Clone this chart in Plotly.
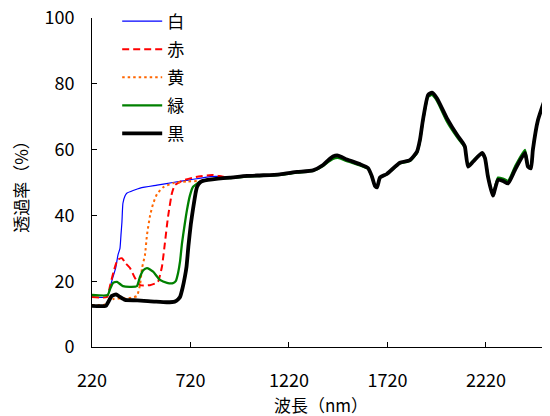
import plotly.graph_objects as go

# ---- data (wavelength nm, transmittance %) ----
common_wl = [920, 1007, 1090, 1174, 1261, 1342, 1393, 1420, 1443, 1469, 1514, 1580, 1621, 1640,
             1656, 1667, 1682, 1717, 1783, 1834, 1870, 1885, 1900, 1926, 1946, 1971, 2022, 2073,
             2103, 2113, 2129, 2154, 2200, 2215, 2230, 2255, 2281, 2306, 2332, 2367, 2418, 2433,
             2448, 2458, 2484, 2530, 2560]
common_t = [51.5, 52.0, 52.2, 52.5, 53.2, 53.7, 55.3, 56.8, 57.9, 58.2, 57.0, 55.6, 54.4, 52.0,
            49.0, 48.5, 51.5, 52.6, 56.0, 56.8, 59.4, 63.0, 69.0, 76.6, 77.3, 75.6, 69.5, 64.5,
            62.0, 60.9, 54.8, 56.3, 59.0, 57.4, 51.8, 46.0, 50.8, 50.5, 49.7, 53.8, 59.0, 54.8,
            54.3, 59.9, 69.0, 77.2, 82.0]
green_tail_t = [51.3, 51.8, 52.0, 52.3, 53.0, 53.5, 55.0, 56.3, 57.2, 57.5, 56.5, 55.2, 54.2, 51.8,
                49.0, 48.8, 51.5, 52.5, 55.8, 56.5, 59.0, 62.5, 68.5, 76.0, 76.6, 74.8, 68.5, 63.8,
                61.5, 60.5, 55.2, 56.6, 59.0, 57.6, 52.2, 46.5, 51.5, 51.2, 50.5, 54.8, 59.9, 55.2,
                54.5, 60.2, 69.0, 77.0, 82.0]

white_wl = [220, 296, 311, 327, 340, 352, 362, 367, 372, 377, 388, 398, 464, 550, 630, 717, 819, 880]
white_t = [15.2, 15.2, 18.0, 21.4, 24.0, 28.0, 30.0, 34.0, 38.0, 43.7, 46.0, 46.8, 48.3, 49.2, 50.0,
           50.8, 51.8, 51.8]

red_wl = [220, 296, 311, 330, 350, 372, 390, 413, 438, 464, 514, 540, 555, 575, 590, 606, 626, 641,
          677, 748, 830, 880]
red_t = [15.2, 15.2, 18.5, 23.0, 26.5, 27.0, 25.5, 24.0, 21.0, 18.8, 18.8, 19.3, 19.8, 24.4, 31.6,
         39.6, 46.8, 49.2, 50.5, 51.7, 52.3, 51.8]

yellow_wl = [220, 280, 300, 330, 388, 420, 448, 464, 474, 489, 499, 515, 530, 550, 580, 631, 702,
             768, 830, 880]
yellow_t = [12.8, 12.8, 13.8, 14.6, 14.8, 15.0, 15.5, 19.0, 24.0, 28.0, 34.0, 40.0, 43.5, 46.5,
            48.5, 49.8, 50.3, 50.5, 51.0, 51.3]

green_wl = [220, 300, 311, 327, 347, 377, 420, 448, 464, 480, 499, 530, 565, 601, 631, 645, 657,
            667, 677, 690, 702, 717, 733, 768, 800, 860]
green_t = [15.8, 15.8, 17.5, 19.5, 19.8, 18.5, 18.3, 18.5, 21.4, 23.3, 24.0, 22.9, 20.4, 19.5,
           19.4, 20.0, 22.5, 26.0, 31.6, 37.0, 41.6, 46.0, 48.7, 50.2, 50.8, 51.2]

black_wl = [220, 290, 301, 320, 342, 360, 388, 450, 540, 600, 640, 657, 667, 680, 692, 700, 710,
            722, 733, 745, 753, 768, 783, 860]
black_t = [12.5, 12.5, 13.5, 15.5, 16.0, 15.3, 14.3, 14.2, 13.8, 13.6, 13.8, 14.5, 15.2, 18.0, 21.5,
           24.5, 31.0, 37.5, 42.0, 46.5, 48.6, 50.0, 50.5, 51.2]

names = ["白", "赤", "黄", "緑", "黒"]
x_ticks = [220, 720, 1220, 1720, 2220]
y_ticks = [0, 20, 40, 60, 80, 100]

FONT = "Noto Sans CJK JP, Noto Sans, sans-serif"

series = [
    (names[0], white_wl + common_wl, white_t + common_t, dict(color="#0000FF", width=1.2)),
    (names[1], red_wl + common_wl, red_t + common_t, dict(color="#FF0000", width=2, dash="7px,4px")),
    (names[2], yellow_wl + common_wl, yellow_t + common_t, dict(color="#FF6600", width=2, dash="2.5px,3px")),
    (names[3], green_wl + common_wl, green_t + green_tail_t, dict(color="#008000", width=2.3)),
    (names[4], black_wl + common_wl, black_t + common_t, dict(color="#000000", width=3.8)),
]

fig = go.Figure()
for i, (nm, xs, ys, ln) in enumerate(series):
    fig.add_trace(go.Scatter(x=xs, y=ys, mode="lines", name=nm, line=ln,
                             legendgroup=str(i), line_shape="spline", line_smoothing=0.5))

# page body has an 8px margin, so figure margins are reduced accordingly
fig.update_layout(
    width=550, height=416,
    margin=dict(l=84, r=8, t=10, b=77, autoexpand=False),
    paper_bgcolor="white", plot_bgcolor="white",
    font=dict(family=FONT, size=17, color="black"),
    showlegend=True,
    legend=dict(x=0.055, y=1.044, xanchor="left", yanchor="top", bgcolor="rgba(0,0,0,0)",
                borderwidth=0, font=dict(size=17), itemwidth=40,
                traceorder="grouped", tracegroupgap=3),
    xaxis=dict(range=[220, 2545], tickvals=x_ticks, ticktext=[str(v) for v in x_ticks],
               showline=True, linecolor="black", linewidth=1, ticks="inside", ticklen=5,
               tickcolor="black", showgrid=False, zeroline=False, automargin=False,
               tickfont=dict(size=18), ticklabelstandoff=17, ticklabeloverflow="allow",
               title=dict(text="波長（nm）", font=dict(size=17), standoff=6)),
    yaxis=dict(range=[0, 100], tickvals=y_ticks, ticktext=[str(v) for v in y_ticks],
               showline=True, linecolor="black", linewidth=1, ticks="inside", ticklen=5,
               tickcolor="black", showgrid=False, zeroline=False, automargin=False,
               tickfont=dict(size=18), ticklabelstandoff=13, ticklabeloverflow="allow",
               title=dict(text="透過率（%）", font=dict(size=17), standoff=11)),
)

fig.write_html("out.html")
